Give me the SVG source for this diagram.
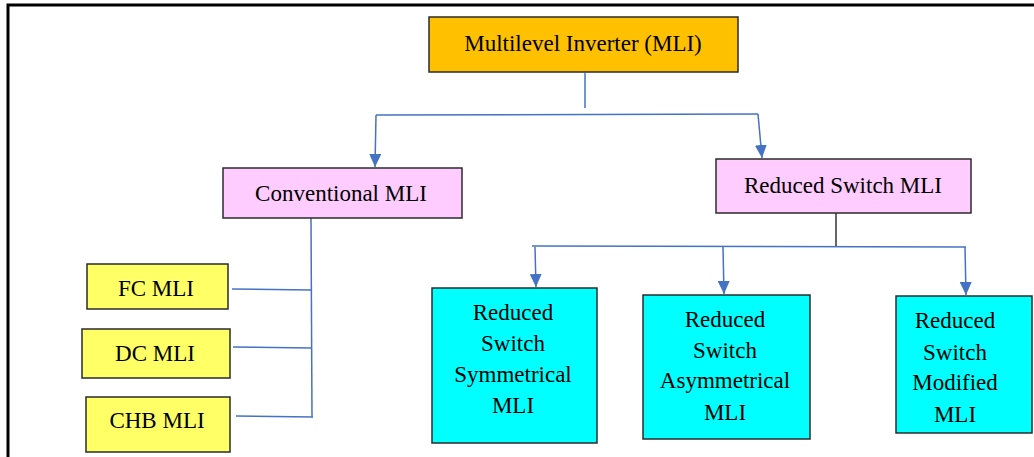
<svg xmlns="http://www.w3.org/2000/svg" width="1034" height="457" viewBox="0 0 1034 457">
<defs>
<style>
.box{stroke:#2b2b2b;stroke-width:1.5}
.t{font-size:23px;fill:#000;text-anchor:middle}
.c{fill:none;stroke:#4472C4;stroke-width:1.5}
.ck{fill:none;stroke:#333;stroke-width:1.5}
</style>
<marker id="ah" viewBox="0 0 10 10" refX="10" refY="5" markerWidth="13" markerHeight="12" markerUnits="userSpaceOnUse" orient="auto" preserveAspectRatio="none">
<path d="M0,0 L10,5 L0,10 Z" fill="#4472C4"/>
</marker>
</defs>
<rect width="1034" height="457" fill="#fff"/>
<path d="M8,457 V5 H1034" fill="none" stroke="#000" stroke-width="3"/>
<g id="connectors">
<line class="c" x1="585" y1="73" x2="585" y2="108"/>
<path class="c" d="M376,115 L758,114"/>
<line class="c" x1="376" y1="115" x2="375" y2="167" marker-end="url(#ah)"/>
<line class="c" x1="758" y1="114" x2="762" y2="158" marker-end="url(#ah)"/>
<line class="c" x1="311" y1="218" x2="312" y2="417"/>
<line class="c" x1="232" y1="289" x2="311" y2="290"/>
<line class="c" x1="233" y1="347" x2="312" y2="348"/>
<line class="c" x1="236" y1="416" x2="313" y2="417"/>
<line class="ck" x1="836" y1="213" x2="836" y2="247"/>
<path class="c" d="M532,246 L966,247"/>
<line class="c" x1="535" y1="247" x2="536" y2="287" marker-end="url(#ah)"/>
<line class="c" x1="723" y1="247" x2="724" y2="294" marker-end="url(#ah)"/>
<line class="c" x1="965" y1="247" x2="966" y2="295" marker-end="url(#ah)"/>
</g>
<g id="mli">
<rect class="box" x="429" y="17" width="309" height="55" fill="#FFC000"/>
<text class="t" font-family="Times New Roman" x="583" y="51">Multilevel Inverter (MLI)</text>
</g>
<g id="conventional">
<rect class="box" x="223" y="168" width="239" height="50" fill="#FFCCFF"/>
<text class="t" font-family="Times New Roman" x="341" y="201">Conventional MLI</text>
</g>
<g id="reduced">
<rect class="box" x="716" y="159" width="255" height="54" fill="#FFCCFF"/>
<text class="t" font-family="Times New Roman" x="843" y="193">Reduced Switch MLI</text>
</g>
<g id="fc">
<rect class="box" x="87" y="264" width="141" height="45" fill="#FFFF66"/>
<text class="t" font-family="Times New Roman" x="156" y="296">FC MLI</text>
</g>
<g id="dc">
<rect class="box" x="82" y="329" width="148" height="49" fill="#FFFF66"/>
<text class="t" font-family="Times New Roman" x="155" y="361">DC MLI</text>
</g>
<g id="chb">
<rect class="box" x="86" y="397" width="144" height="55" fill="#FFFF66"/>
<text class="t" font-family="Times New Roman" x="157" y="428">CHB MLI</text>
</g>
<g id="sym">
<rect class="box" x="432" y="288" width="165" height="155" fill="#00FFFF"/>
<text class="t" font-family="Times New Roman" x="513" y="320">Reduced</text>
<text class="t" font-family="Times New Roman" x="513" y="351">Switch</text>
<text class="t" font-family="Times New Roman" x="513" y="382">Symmetrical</text>
<text class="t" font-family="Times New Roman" x="513" y="413">MLI</text>
</g>
<g id="asym">
<rect class="box" x="643" y="295" width="167" height="144" fill="#00FFFF"/>
<text class="t" font-family="Times New Roman" x="725" y="327">Reduced</text>
<text class="t" font-family="Times New Roman" x="725" y="358">Switch</text>
<text class="t" font-family="Times New Roman" x="725" y="388">Asymmetrical</text>
<text class="t" font-family="Times New Roman" x="725" y="420">MLI</text>
</g>
<g id="mod">
<rect class="box" x="896" y="296" width="136" height="137" fill="#00FFFF"/>
<text class="t" font-family="Times New Roman" x="955" y="328">Reduced</text>
<text class="t" font-family="Times New Roman" x="955" y="360">Switch</text>
<text class="t" font-family="Times New Roman" x="955" y="390">Modified</text>
<text class="t" font-family="Times New Roman" x="955" y="422">MLI</text>
</g>
</svg>
